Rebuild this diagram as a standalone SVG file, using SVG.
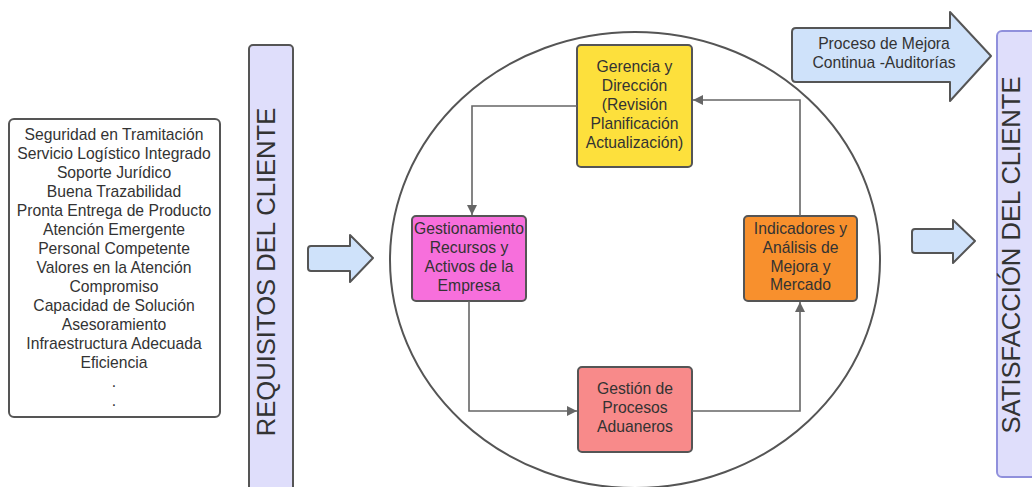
<svg xmlns="http://www.w3.org/2000/svg" width="1032" height="487" viewBox="0 0 1032 487">
<style>
text{font-family:"Liberation Sans",Arial,sans-serif;fill:#333;}
.t{font-size:15.7px;text-anchor:middle;}
.big{font-size:25.6px;text-anchor:middle;fill:#333;}
.node{stroke:#555;stroke-width:2;}
.conn{fill:none;stroke:#666;stroke-width:1.6;}
.barrow{fill:#cfe2fa;stroke:#555;stroke-width:2;stroke-linejoin:round;}
</style>
<defs>
<marker id="ah" viewBox="0 0 10 10" refX="10" refY="5" markerWidth="10" markerHeight="10" markerUnits="userSpaceOnUse" orient="auto">
<path d="M0,0 L10,5 L0,10 Z" fill="#666"/>
</marker>
</defs>
<rect width="1032" height="487" fill="#fff"/>

<g id="requirements-list">
<rect x="9" y="119" width="211" height="298" rx="5" fill="#fff" stroke="#555" stroke-width="2"/>
<text class="t" x="114" y="140">Seguridad en Tramitación</text>
<text class="t" x="114" y="159">Servicio Logístico Integrado</text>
<text class="t" x="114" y="178">Soporte Jurídico</text>
<text class="t" x="114" y="197">Buena Trazabilidad</text>
<text class="t" x="114" y="216">Pronta Entrega de Producto</text>
<text class="t" x="114" y="235">Atención Emergente</text>
<text class="t" x="114" y="254">Personal Competente</text>
<text class="t" x="114" y="273">Valores en la Atención</text>
<text class="t" x="114" y="292">Compromiso</text>
<text class="t" x="114" y="311">Capacidad de Solución</text>
<text class="t" x="114" y="330">Asesoramiento</text>
<text class="t" x="114" y="349">Infraestructura Adecuada</text>
<text class="t" x="114" y="368">Eficiencia</text>
<text class="t" x="114" y="387">.</text>
<text class="t" x="114" y="406">.</text>
</g>

<g id="requisitos-bar">
<rect x="249" y="45" width="44" height="460" rx="4" fill="#dfdefb" stroke="#555" stroke-width="2"/>
<text class="big" transform="translate(275,272) rotate(-90)">REQUISITOS DEL CLIENTE</text>
</g>

<g id="arrow-in">
<path class="barrow" d="M311,246 H350 V235 L373,258 L350,282 V271 H311 Q308,271 308,268 V249 Q308,246 311,246 Z"/>
</g>

<g id="cycle-circle">
<ellipse cx="635" cy="260" rx="245" ry="228" fill="none" stroke="#555" stroke-width="2"/>
</g>

<g id="gerencia">
<rect class="node" x="577" y="45" width="115" height="122" rx="4" fill="#fde03c"/>
<text class="t" x="634.5" y="72">Gerencia y</text>
<text class="t" x="634.5" y="91">Dirección</text>
<text class="t" x="634.5" y="110">(Revisión</text>
<text class="t" x="634.5" y="129">Planificación</text>
<text class="t" x="634.5" y="148">Actualización)</text>
</g>

<g id="gestionamiento">
<rect class="node" x="412" y="216" width="114" height="85" rx="4" fill="#f76fdc"/>
<text class="t" x="469" y="234">Gestionamiento</text>
<text class="t" x="469" y="253">Recursos y</text>
<text class="t" x="469" y="272">Activos de la</text>
<text class="t" x="469" y="291">Empresa</text>
</g>

<g id="indicadores">
<rect class="node" x="744" y="216" width="113" height="85" rx="4" fill="#f8902d"/>
<text class="t" x="800.5" y="234">Indicadores y</text>
<text class="t" x="800.5" y="253">Análisis de</text>
<text class="t" x="800.5" y="272">Mejora y</text>
<text class="t" x="800.5" y="290">Mercado</text>
</g>

<g id="gestion-procesos">
<rect class="node" x="578" y="367" width="114" height="85" rx="4" fill="#f88a8a"/>
<text class="t" x="635" y="394">Gestión de</text>
<text class="t" x="635" y="413">Procesos</text>
<text class="t" x="635" y="432">Aduaneros</text>
</g>

<g id="connectors">
<path class="conn" d="M577,106 H472 V215" marker-end="url(#ah)"/>
<path class="conn" d="M469,301 V411 H577" marker-end="url(#ah)"/>
<path class="conn" d="M692,411 H800 V302" marker-end="url(#ah)"/>
<path class="conn" d="M800,216 V100 H693" marker-end="url(#ah)"/>
</g>

<g id="mejora-arrow">
<path class="barrow" d="M796,28 H950 V12 L991,56 L950,101 V82 H796 Q792,82 792,78 V32 Q792,28 796,28 Z"/>
<text class="t" x="884" y="49">Proceso de Mejora</text>
<text class="t" x="884" y="68">Continua -Auditorías</text>
</g>

<g id="arrow-out">
<path class="barrow" d="M915,229 H953 V220 L975,241 L953,263 V253 H915 Q912,253 912,250 V232 Q912,229 915,229 Z"/>
</g>

<g id="satisfaccion-bar">
<rect x="997" y="31" width="44" height="446" rx="5" fill="#dfdefb" stroke="#9090dc" stroke-width="2"/>
<text class="big" transform="translate(1020,255) rotate(-90)">SATISFACCIÓN DEL CLIENTE</text>
</g>
</svg>
